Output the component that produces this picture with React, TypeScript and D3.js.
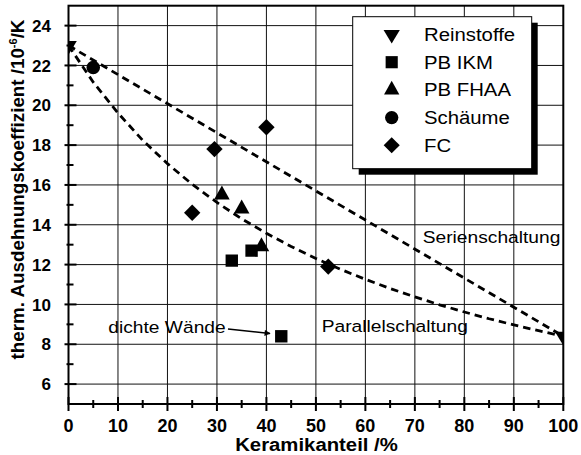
import React from "react";
import * as d3 from "d3";

// ---- data ----
const xTicks = [0, 10, 20, 30, 40, 50, 60, 70, 80, 90, 100];
const yTicks = [6, 8, 10, 12, 14, 16, 18, 20, 22, 24];
const xMinor = [5, 15, 25, 35, 45, 55, 65, 75, 85, 95];
const yMinor = [7, 9, 11, 13, 15, 17, 19, 21, 23];

const reinstoffe = [{ x: 0, y: 23 }, { x: 100, y: 8.4 }];
const pbIkm = [{ x: 33, y: 12.2 }, { x: 37, y: 12.7 }, { x: 43, y: 8.4 }];
const pbFhaa = [{ x: 31, y: 15.5 }, { x: 35, y: 14.8 }, { x: 39, y: 12.9 }];
const schaeume = [{ x: 5, y: 21.9 }];
const fc = [{ x: 25, y: 14.6 }, { x: 29.5, y: 17.8 }, { x: 40, y: 18.9 }, { x: 52.5, y: 11.9 }];

const serienX = [0, 100];
const serienY = [23, 8.4];
const parallelX = [0, 5, 10, 15, 20, 25, 30, 35, 40, 45, 50, 55, 60, 65, 70, 75, 80, 85, 90, 95, 100];
const parallelY = [23, 21.16, 19.61, 18.24, 17.07, 16.03, 15.12, 14.3, 13.57, 12.91, 12.31, 11.76, 11.26, 10.8, 10.38, 9.98, 9.62, 9.28, 8.97, 8.68, 8.4];

const legendLabels = ["Reinstoffe", "PB IKM", "PB FHAA", "Schäume", "FC"];
const legendShapes = ["triDown", "square", "triUp", "circle", "diamond"];

const FONT = "'Liberation Sans', Arial, Helvetica, sans-serif";
const SX = 1.13;

function shapePath(kind: string, s = 1): string {
  switch (kind) {
    case "triDown": {
      const w = 8.3 * s, h = 13.7 * s;
      return `M${-w},${-h / 3}L${w},${-h / 3}L0,${(2 * h) / 3}Z`;
    }
    case "triUp": {
      const w = 7.8 * s, h = 14 * s;
      return `M${-w},${h / 3}L${w},${h / 3}L0,${(-2 * h) / 3}Z`;
    }
    case "square": {
      const a = 6.2 * s;
      return `M${-a},${-a}H${a}V${a}H${-a}Z`;
    }
    case "diamond": {
      const a = 8.2 * s;
      return `M0,${-a}L${a},0L0,${a}L${-a},0Z`;
    }
    default: {
      const r = 6.8 * s;
      return `M${r},0A${r},${r} 0 1,1 ${-r},0A${r},${r} 0 1,1 ${r},0Z`;
    }
  }
}

function SText(props: { x: number; y: number; size: number; children: React.ReactNode; anchor?: string; bold?: boolean; dy?: string }) {
  return (
    <text
      transform={`translate(${props.x},${props.y}) scale(${SX},1)`}
      fontSize={props.size}
      textAnchor={props.anchor || "start"}
      fontWeight={props.bold ? "bold" : "normal"}
      dy={props.dy}
    >
      {props.children}
    </text>
  );
}

export default function App() {
  const x0 = 68.5, x1 = 563.3, y0 = 404, y1 = 5.7;
  const x = d3.scaleLinear().domain([0, 100]).range([x0, x1]);
  const y = d3.scaleLinear().domain([5, 25]).range([y0, y1]);
  const line = d3.line<[number, number]>().x((d) => x(d[0])).y((d) => y(d[1]));
  const serien = line(serienX.map((v, i) => [v, serienY[i]] as [number, number])) || "";
  const parallel = line(parallelX.map((v, i) => [v, parallelY[i]] as [number, number])) || "";

  const series: { data: { x: number; y: number }[]; shape: string }[] = [
    { data: reinstoffe, shape: "triDown" },
    { data: pbIkm, shape: "square" },
    { data: pbFhaa, shape: "triUp" },
    { data: schaeume, shape: "circle" },
    { data: fc, shape: "diamond" },
  ];

  const legX = 352.7, legY = 16.7, legW = 179, legH = 152;
  const legRow = (i: number) => 34.5 + 27.7 * i;

  return (
    <svg width={581} height={455} style={{ position: "absolute", left: 0, top: 0, background: "#fff" }} fontFamily={FONT}>
      <defs>
        <clipPath id="plot">
          <rect x={x0} y={y1} width={x1 - x0} height={y0 - y1} />
        </clipPath>
        <marker id="arr" viewBox="0 0 10 10" refX="9" refY="5" markerWidth="8" markerHeight="6" orient="auto" markerUnits="userSpaceOnUse">
          <path d="M0,0L10,5L0,10Z" fill="#000" />
        </marker>
      </defs>
      <rect x={0} y={0} width={581} height={455} fill="#fff" />
      {/* grid */}
      {xTicks.slice(1, -1).map((t) => (
        <line key={"gx" + t} x1={x(t)} x2={x(t)} y1={y1} y2={y0} stroke="#111" strokeWidth={1} />
      ))}
      {yTicks.map((t) => (
        <line key={"gy" + t} x1={x0} x2={x1} y1={y(t)} y2={y(t)} stroke="#111" strokeWidth={1} />
      ))}
      {/* curves and markers */}
      <g clipPath="url(#plot)">
        <path d={serien} fill="none" stroke="#000" strokeWidth={2.8} strokeDasharray="7.5,5" />
        <path d={parallel} fill="none" stroke="#000" strokeWidth={2.8} strokeDasharray="7.5,5" />
        {series.map((s, si) =>
          s.data.map((p, pi) => (
            <path key={si + "-" + pi} d={shapePath(s.shape)} transform={`translate(${x(p.x)},${y(p.y)})`} fill="#000" />
          ))
        )}
      </g>
      {/* frame */}
      <rect x={x0} y={y1} width={x1 - x0} height={y0 - y1} fill="none" stroke="#000" strokeWidth={2} />
      {/* ticks */}
      {xTicks.map((t) => (
        <line key={"tx" + t} x1={x(t)} x2={x(t)} y1={y0 - 7} y2={y0 + 7} stroke="#000" strokeWidth={2} />
      ))}
      {xMinor.map((t) => (
        <line key={"mx" + t} x1={x(t)} x2={x(t)} y1={y0 - 4} y2={y0 + 4} stroke="#000" strokeWidth={2} />
      ))}
      {yTicks.map((t) => (
        <line key={"ty" + t} x1={x0 - 4} x2={x0 + 8} y1={y(t)} y2={y(t)} stroke="#000" strokeWidth={2} />
      ))}
      {yMinor.map((t) => (
        <line key={"my" + t} x1={x0 - 2} x2={x0 + 5} y1={y(t)} y2={y(t)} stroke="#000" strokeWidth={2} />
      ))}
      {/* tick labels */}
      {xTicks.map((t) => (
        <text key={"lx" + t} x={x(t)} y={432} textAnchor="middle" fontSize={18} fontWeight="bold">{t}</text>
      ))}
      {yTicks.map((t) => (
        <text key={"ly" + t} x={51} y={y(t)} dy="0.36em" textAnchor="end" fontSize={17} fontWeight="bold">{t}</text>
      ))}
      {/* axis titles */}
      <SText x={316.5} y={451} size={18} anchor="middle" bold>Keramikanteil /%</SText>
      <text transform="translate(24,189.5) rotate(-90)" textAnchor="middle" fontSize={18.8} fontWeight="bold">
        therm. Ausdehnungskoeffizient /10<tspan dy={-7} fontSize={11}>-6</tspan><tspan dy={7}>/K</tspan>
      </text>
      {/* annotations */}
      <SText x={422.7} y={243.3} size={17}>Serienschaltung</SText>
      <SText x={321.7} y={331.7} size={17}>Parallelschaltung</SText>
      <SText x={108.3} y={333.3} size={17}>dichte Wände</SText>
      <line x1={228} y1={329} x2={270} y2={333.5} stroke="#000" strokeWidth={1.5} markerEnd="url(#arr)" />
      {/* legend */}
      <rect x={legX + 6} y={legY + 6} width={legW} height={legH} fill="#000" />
      <rect x={legX} y={legY} width={legW} height={legH} fill="#fff" stroke="#000" strokeWidth={1} />
      {legendLabels.map((lab, i) => (
        <g key={"lg" + i}>
          <path d={shapePath(legendShapes[i], 0.98)} transform={`translate(391.7,${legRow(i)})`} fill="#000" />
          <SText x={424} y={legRow(i)} size={18} dy="0.36em">{lab}</SText>
        </g>
      ))}
    </svg>
  );
}
